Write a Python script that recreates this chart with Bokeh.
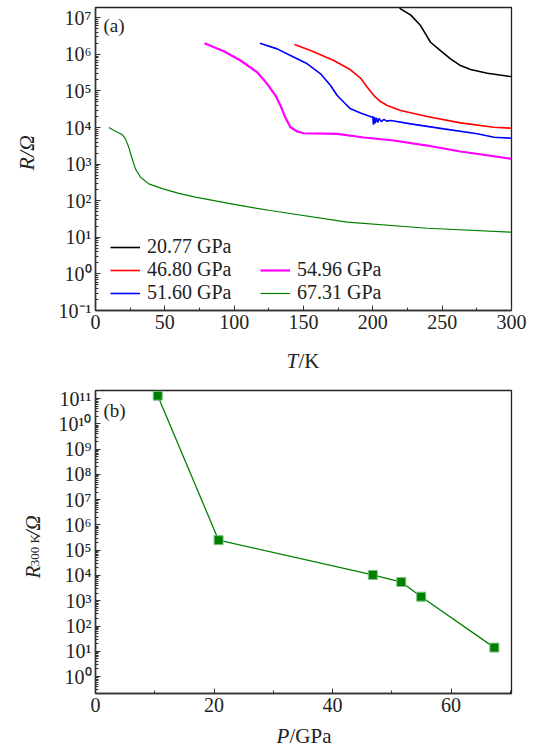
import math
from bokeh.plotting import figure
from bokeh.models import (Range1d, FixedTicker, SingleIntervalTicker, CustomJSTickFormatter,
                          Legend, LegendItem, Label)
from bokeh.core.properties import value
from bokeh.layouts import column, row
from bokeh.embed import file_html
from bokeh.resources import INLINE

FONT = "Liberation Serif"

# ---------------- panel (a): R(T) at several pressures ----------------
T_2077 = [217, 220.0, 227.2, 234.4, 238.0, 241.6, 248.8, 256.0, 263.2, 270.5, 282.5, 297.9, 300]
R_2077 = [2.4e7, 1.75e7, 1.20e7, 6.12e6, 3.63e6, 2.14e6, 1.27e6, 7.53e5, 4.94e5, 3.85e5, 3.05e5, 2.52e5, 2.48e5]

T_4680 = [143.5, 155.1, 171.9, 183.9, 191.1, 196.0, 200.7, 205.5, 210.4, 220.0, 239.2, 263.2, 287.3, 300]
R_4680 = [1.85e6, 1.27e6, 6.78e5, 3.78e5, 2.25e5, 1.26e5, 7.48e4, 5.13e4, 3.99e4, 2.91e4, 2.0e4, 1.34e4, 1.02e4, 9.6e3]

T_5160 = [118.5, 131.0, 140.6, 152.7, 162.3, 169.5, 174.3, 179.1, 183.9, 191.1, 199.6,
          200.0, 200.4, 201.0, 201.6, 202.5, 203.5, 204.5, 206.0, 208.0, 210.0, 213.0,
          227.2, 251.2, 275.3, 287.3, 300]
R_5160 = [2.01e6, 1.41e6, 9.27e5, 5.5e5, 2.93e5, 1.41e5, 7.48e4, 4.91e4, 3.24e4, 2.49e4, 1.91e4,
          2.0e4, 1.2e4, 1.95e4, 1.3e4, 1.85e4, 1.38e4, 1.78e4, 1.45e4, 1.66e4, 1.5e4, 1.55e4,
          1.26e4, 9.2e3, 6.73e3, 5.43e3, 5.1e3]

T_5496 = [78.6, 92.5, 104.6, 116.6, 123.8, 129.8, 133.4, 137.0, 140.6, 145.5, 150.2, 174.3,
          193.5, 215.1, 239.2, 263.2, 287.3, 300]
R_5496 = [2.01e6, 1.22e6, 6.78e5, 3.24e5, 1.56e5, 7.48e4, 3.99e4, 1.84e4, 1.02e4, 7.78e3, 6.98e3,
          6.73e3, 5.33e3, 4.42e3, 3.22e3, 2.21e3, 1.64e3, 1.40e3]

T_6731 = [9.6, 14.4, 19.2, 21.6, 24.0, 26.5, 28.8, 32.5, 38.4, 48.1, 60.1, 72.1, 96.1, 115.4,
          126.0, 181.5, 239.4, 300]
R_6731 = [1.0e4, 7.94e3, 6.46e3, 4.9e3, 2.88e3, 1.38e3, 7.41e2, 4.37e2, 2.88e2, 2.14e2, 1.58e2,
          1.26e2, 85, 63, 54, 26, 17.7, 13.8]

series_labels = ["20.77 GPa", "46.80 GPa", "51.60 GPa", "54.96 GPa", "67.31 GPa"]

# ---------------- panel (b): R at 300 K vs pressure ----------------
P_GPa = [10.5, 20.77, 46.80, 51.60, 54.96, 67.31]
R_300K = [1.3e11, 2.5e5, 1.05e4, 5.5e3, 1.45e3, 14]

sup_js = """
const m = {'0':'\\u2070','1':'\\u00b9','2':'\\u00b2','3':'\\u00b3','4':'\\u2074','5':'\\u2075',
           '6':'\\u2076','7':'\\u2077','8':'\\u2078','9':'\\u2079','-':'\\u207b'};
const e = Math.round(Math.log10(tick));
return '10' + String(e).split('').map(c => m[c]).join('');
"""


def log_ticker(lo, hi):
    major = [10.0 ** k for k in range(lo, hi + 1)]
    minor = [m * 10.0 ** k for k in range(lo - 1, hi + 1) for m in range(2, 10)]
    return FixedTicker(ticks=major, minor_ticks=minor)


def style(p):
    p.outline_line_color = "#222222"
    p.outline_line_width = 1.3
    p.grid.visible = False
    p.background_fill_color = "white"
    p.border_fill_color = "white"
    for ax in (p.xaxis[0], p.yaxis[0]):
        ax.major_tick_in = 5
        ax.major_tick_out = 0
        ax.minor_tick_in = 3
        ax.minor_tick_out = 0
        ax.axis_line_color = "#333333"
        ax.axis_line_width = 1.5
        ax.major_tick_line_color = "#333333"
        ax.minor_tick_line_color = "#333333"
        ax.major_label_text_font = FONT
        ax.major_label_text_font_size = "20px"
        ax.major_label_text_color = "#222222"
        ax.axis_label = None
    p.xaxis[0].major_label_standoff = 4
    p.yaxis[0].major_label_standoff = 4


def strip(w, h):
    s = figure(width=w, height=h, output_backend="svg", toolbar_location=None,
               x_range=Range1d(0, w), y_range=Range1d(0, h),
               x_axis_location=None, y_axis_location=None,
               min_border=0, min_border_left=0, min_border_right=0,
               min_border_top=0, min_border_bottom=0)
    s.outline_line_color = None
    s.grid.visible = False
    s.background_fill_color = "white"
    s.border_fill_color = "white"
    return s


def txt(s, x, y, text, size="21px", style_="normal", angle=0.0, align="left"):
    s.text(x=[x], y=[y], text=[text], text_font=value(FONT), text_font_size=value(size),
           text_font_style=value(style_), text_color="#222222", angle=angle,
           text_align=value(align), text_baseline=value("alphabetic"))


SW = 48  # width of the y-title strips

# ---------- top figure ----------
p1 = figure(width=534 - SW, height=338, output_backend="svg", toolbar_location=None,
            y_axis_type="log", x_range=Range1d(0, 300), y_range=Range1d(0.1, 10 ** 7.28),
            min_border_left=95 - SW, min_border_right=23, min_border_top=7, min_border_bottom=28)
style(p1)
p1.xaxis[0].ticker = SingleIntervalTicker(interval=50, num_minor_ticks=2)
p1.yaxis[0].ticker = log_ticker(-1, 7)
p1.yaxis[0].formatter = CustomJSTickFormatter(code=sup_js)

r1 = p1.line(T_2077, R_2077, line_color="black", line_width=1.6)
r2 = p1.line(T_4680, R_4680, line_color="#ff0000", line_width=1.6)
r3 = p1.line(T_5160, R_5160, line_color="#0000ff", line_width=1.6)
r4 = p1.line(T_5496, R_5496, line_color="#ff00ff", line_width=2.2)
r5 = p1.line(T_6731, R_6731, line_color="#008000", line_width=1.2)


def make_legend(items, loc):
    lg = Legend(items=items, location=loc)
    lg.label_text_font = FONT
    lg.label_text_font_size = "20px"
    lg.label_text_color = "#222222"
    lg.glyph_width = 30
    lg.glyph_height = 20
    lg.label_height = 20
    lg.label_standoff = 7
    lg.spacing = 0
    lg.padding = 0
    lg.margin = 0
    lg.border_line_alpha = 0
    lg.background_fill_alpha = 0
    return lg


leg1 = make_legend([LegendItem(label=series_labels[0], renderers=[r1]),
                    LegendItem(label=series_labels[1], renderers=[r2]),
                    LegendItem(label=series_labels[2], renderers=[r3])], (15, 6))
leg2 = make_legend([LegendItem(label=series_labels[3], renderers=[r4]),
                    LegendItem(label=series_labels[4], renderers=[r5])], (165, 6))
p1.add_layout(leg1)
p1.add_layout(leg2)

p1.add_layout(Label(x=8, y=275, x_units="screen", y_units="screen", text="(a)",
                    text_font=FONT, text_font_size="19px", text_color="#222222"))

sa_y = strip(SW, 338)
txt(sa_y, 26, 176, "R/\u03a9", size="22px", style_="italic", angle=math.pi / 2, align="center")
sa_x = strip(534, 37)
txt(sa_x, 286, 15, "T", style_="italic")
txt(sa_x, 298, 15, "/K")

# ---------- bottom figure ----------
p2 = figure(width=534 - SW, height=345, output_backend="svg", toolbar_location=None,
            y_axis_type="log", x_range=Range1d(0, 70.2), y_range=Range1d(10 ** -0.67, 10 ** 11.32),
            min_border_left=95 - SW, min_border_right=23, min_border_top=15, min_border_bottom=27)
style(p2)
p2.xaxis[0].ticker = SingleIntervalTicker(interval=20, num_minor_ticks=2)
p2.yaxis[0].ticker = log_ticker(0, 11)
p2.yaxis[0].formatter = CustomJSTickFormatter(code=sup_js)

p2.line(P_GPa, R_300K, line_color="#008000", line_width=1.3)
p2.scatter(P_GPa, R_300K, marker="square", size=9, fill_color="#008000", line_color="#80c080",
           line_width=1)

p2.add_layout(Label(x=8, y=273, x_units="screen", y_units="screen", text="(b)",
                    text_font=FONT, text_font_size="19px", text_color="#222222"))

sb_y = strip(SW, 345)
txt(sb_y, 32, 131, "R", style_="italic", angle=math.pi / 2)
txt(sb_y, 34, 145, "300 K", size="13px", angle=math.pi / 2)
txt(sb_y, 32, 179, "/\u03a9", style_="italic", angle=math.pi / 2)
sb_x = strip(534, 26)
txt(sb_x, 276, 11, "P", style_="italic")
txt(sb_x, 289, 11, "/GPa")

layout = column(row(sa_y, p1, spacing=0), sa_x, row(sb_y, p2, spacing=0), sb_x, spacing=0)
open("out.html", "w", encoding="utf-8").write(file_html(layout, INLINE))
